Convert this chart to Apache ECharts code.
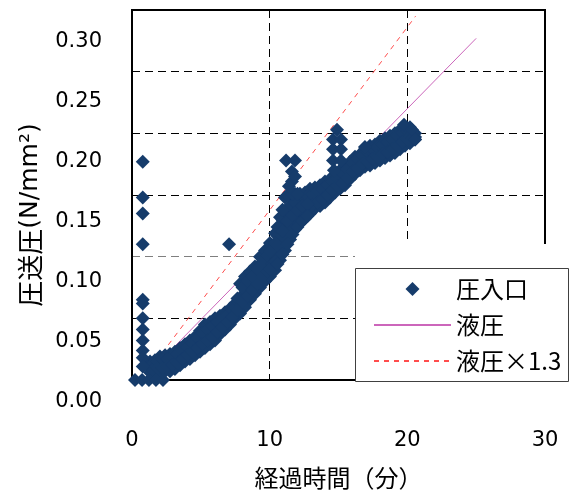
<!DOCTYPE html>
<html>
<head>
<meta charset="utf-8">
<script src="https://cdn.jsdelivr.net/npm/echarts@6/dist/echarts.min.js"></script>
<style>
  html, body { margin: 0; background: #fff; }
  #chart { width: 572px; height: 495px; }
</style>
</head>
<body>
<div id="chart"></div>
<script>
// 圧入口: 帯状の測定点 (上側・中央・下側を読み取り)
const bandTime = [1.31, 1.67, 2.03, 2.40, 2.76, 3.12, 3.49, 3.85, 4.21, 4.58,
  4.94, 5.30, 5.67, 6.03, 6.39, 6.76, 7.12, 7.48, 7.85, 8.21,
  8.57, 8.93, 9.30, 9.66, 10.02, 10.39, 10.75, 11.11, 11.48, 11.84,
  12.20, 12.57, 12.93, 13.29, 13.66, 14.02, 14.38, 14.75, 15.11, 15.47,
  15.84, 16.20, 16.56, 16.92, 17.29, 17.65, 18.01, 18.38, 18.74, 19.10,
  19.47, 19.83, 20.19, 20.56]
const bandUpper = [0.015, 0.016, 0.019, 0.020, 0.021, 0.023, 0.026, 0.029, 0.032, 0.035,
  0.040, 0.045, 0.047, 0.050, 0.052, 0.055, 0.058, 0.062, 0.078, 0.084,
  0.088, 0.092, 0.100, 0.105, 0.111, 0.119, 0.132, 0.148, 0.150, 0.151,
  0.151, 0.152, 0.155, 0.156, 0.158, 0.161, 0.163, 0.166, 0.170, 0.173,
  0.177, 0.181, 0.183, 0.187, 0.190, 0.191, 0.194, 0.196, 0.198, 0.200,
  0.203, 0.205, 0.205, 0.200]
const bandMid = [0.010, 0.011, 0.013, 0.014, 0.014, 0.016, 0.019, 0.022, 0.025, 0.028,
  0.031, 0.035, 0.038, 0.041, 0.045, 0.048, 0.052, 0.056, 0.066, 0.071,
  0.076, 0.081, 0.087, 0.092, 0.097, 0.104, 0.114, 0.126, 0.132, 0.137,
  0.139, 0.142, 0.145, 0.147, 0.150, 0.152, 0.155, 0.159, 0.162, 0.165,
  0.170, 0.174, 0.176, 0.180, 0.182, 0.183, 0.186, 0.188, 0.190, 0.192,
  0.195, 0.198, 0.199, 0.197]
const bandLower = [0.006, 0.007, 0.007, 0.007, 0.007, 0.009, 0.012, 0.015, 0.017, 0.020,
  0.023, 0.026, 0.029, 0.032, 0.037, 0.041, 0.045, 0.050, 0.054, 0.059,
  0.065, 0.070, 0.075, 0.080, 0.084, 0.089, 0.097, 0.105, 0.114, 0.122,
  0.127, 0.131, 0.135, 0.139, 0.141, 0.144, 0.148, 0.152, 0.155, 0.158,
  0.163, 0.167, 0.170, 0.173, 0.174, 0.176, 0.178, 0.180, 0.182, 0.184,
  0.187, 0.190, 0.192, 0.195]

// 帯の中間の時刻での上寄り・下寄りの点
const bandTime2 = [1.49, 1.85, 2.21, 2.58, 2.94, 3.30, 3.67, 4.03, 4.39, 4.76,
  5.12, 5.48, 5.85, 6.21, 6.57, 6.94, 7.30, 7.66, 8.03, 8.39,
  8.75, 9.11, 9.48, 9.84, 10.20, 10.57, 10.93, 11.29, 11.66, 12.02,
  12.38, 12.75, 13.11, 13.47, 13.84, 14.20, 14.56, 14.93, 15.29, 15.65,
  16.02, 16.38, 16.74, 17.10, 17.47, 17.83, 18.19, 18.56, 18.92, 19.28,
  19.65, 20.01, 20.37]
const bandUpperMid = [0.013, 0.015, 0.017, 0.017, 0.019, 0.021, 0.024, 0.027, 0.030, 0.034,
  0.038, 0.041, 0.044, 0.047, 0.050, 0.053, 0.057, 0.066, 0.075, 0.080,
  0.084, 0.090, 0.096, 0.101, 0.108, 0.117, 0.130, 0.139, 0.143, 0.145,
  0.146, 0.149, 0.151, 0.153, 0.155, 0.158, 0.161, 0.164, 0.168, 0.171,
  0.176, 0.179, 0.182, 0.185, 0.187, 0.189, 0.191, 0.193, 0.195, 0.198,
  0.200, 0.202, 0.200]
const bandLowerMid = [0.008, 0.010, 0.010, 0.011, 0.012, 0.014, 0.017, 0.020, 0.023, 0.026,
  0.029, 0.032, 0.035, 0.039, 0.043, 0.047, 0.051, 0.057, 0.063, 0.068,
  0.073, 0.078, 0.084, 0.088, 0.094, 0.101, 0.111, 0.119, 0.126, 0.131,
  0.135, 0.138, 0.142, 0.144, 0.147, 0.150, 0.154, 0.157, 0.160, 0.164,
  0.169, 0.172, 0.175, 0.177, 0.179, 0.181, 0.183, 0.185, 0.187, 0.190,
  0.193, 0.195, 0.196]

// 帯から外れた点 (立上り直後の列, 孤立点, 急上昇部の内側, 2つの突出部, 終端)
const extraTime = [0.78, 0.78, 0.78, 0.78, 0.78, 0.78, 0.78, 0.78, 0.78, 0.78, 0.78, 0.78,
  7.05,
  0.22, 0.73, 1.23, 1.74, 2.25,
  10.02, 10.02, 10.39, 10.39, 10.75, 11.11, 11.11, 11.48, 11.48, 11.84, 11.84,
  10.57, 10.57, 10.57, 10.93, 10.93, 10.93, 11.29, 11.29, 11.29,
  11.66, 11.66, 11.66, 12.02, 12.02, 12.02, 12.38, 12.38, 12.75, 12.75,
  11.19, 11.84, 11.62, 11.62, 11.84, 11.40,
  14.89, 14.60, 15.18, 14.60, 15.18, 14.60, 15.18, 14.67,
  16.92, 19.76, 20.34, 20.56]
const extraPress = [0.177, 0.148, 0.135, 0.110, 0.065, 0.062, 0.050, 0.041, 0.032, 0.024, 0.018, 0.011,
  0.110,
  0.000, 0.000, 0.000, 0.000, 0.000,
  0.104, 0.090, 0.111, 0.096, 0.123, 0.137, 0.115, 0.141, 0.123, 0.144, 0.130,
  0.109, 0.124, 0.094, 0.121, 0.138, 0.102, 0.129, 0.150, 0.110,
  0.134, 0.118, 0.151, 0.138, 0.124, 0.151, 0.141, 0.129, 0.143, 0.133,
  0.178, 0.178, 0.169, 0.161, 0.165, 0.157,
  0.203, 0.195, 0.195, 0.187, 0.187, 0.178, 0.178, 0.170,
  0.189, 0.207, 0.203, 0.195]

// 液圧 と 液圧×1.3
const liquidTime = [2.2, 25.0]
const liquidPress = [0.017, 0.277]
const liquid13Time = [2.2, 20.6]
const liquid13Press = [0.022, 0.295]

const yTicks = [0, 0.05, 0.10, 0.15, 0.20, 0.25, 0.30]

const numFont = 'DejaVu Sans'
const jpFont = 'Noto Sans CJK JP'
const navy = '#163c6b'

const inletPoints = []
bandTime.forEach((t, i) => {
  inletPoints.push([t, bandUpper[i]], [t, bandMid[i]], [t, bandLower[i]])
})
bandTime2.forEach((t, i) => {
  inletPoints.push([t, bandUpperMid[i]], [t, bandLowerMid[i]])
})
extraTime.forEach((t, i) => inletPoints.push([t, extraPress[i]]))

const chart = echarts.init(document.getElementById('chart'))

chart.setOption({
  animation: false,
  backgroundColor: '#fff',
  grid: [
    { left: 132, top: 10, width: 413, height: 370, show: true, borderColor: '#000', borderWidth: 2 },
    // 目盛ラベル用 (元図ではラベルが枠とずれている)
    { left: 132, top: 42, width: 413, height: 360 }
  ],
  xAxis: [{
    gridIndex: 0,
    type: 'value',
    min: 0,
    max: 30,
    interval: 10,
    axisLine: { show: true, lineStyle: { color: '#000', width: 2 } },
    axisTick: { show: false },
    axisLabel: { margin: 50, color: '#000', fontSize: 21, fontFamily: numFont },
    splitLine: { show: true, lineStyle: { color: '#000', width: 1, type: [8, 5] } },
    name: '経過時間（分）',
    nameLocation: 'middle',
    nameGap: 86,
    nameTextStyle: { color: '#000', fontSize: 24, fontFamily: jpFont }
  }, {
    gridIndex: 1,
    type: 'value',
    min: 0,
    max: 30,
    show: false
  }],
  yAxis: [{
    gridIndex: 0,
    type: 'value',
    min: 0,
    max: 0.3,
    interval: 0.05,
    axisLine: { show: true, lineStyle: { color: '#000', width: 2 } },
    axisTick: { show: false },
    axisLabel: { show: false },
    splitLine: {
      show: true,
      lineStyle: { color: ['#000', '#000', '#7f7f7f', '#000', '#000', '#000', '#000'], width: 1, type: [8, 5] }
    }
  }, {
    gridIndex: 1,
    type: 'value',
    min: yTicks[0],
    max: yTicks[yTicks.length - 1],
    interval: 0.05,
    axisLine: { show: false },
    axisTick: { show: false },
    splitLine: { show: false },
    axisLabel: {
      margin: 30,
      color: '#000',
      fontSize: 21,
      fontFamily: numFont,
      formatter: v => v.toFixed(2)
    }
  }],
  legend: {
    data: [
      { name: '圧入口', icon: 'path://M0,-10L10,0L0,10L-10,0Z' },
      { name: '液圧', itemStyle: { opacity: 0 } },
      { name: '液圧×1.3', itemStyle: { opacity: 0 } }
    ],
    orient: 'vertical',
    left: 373,
    top: 277,
    padding: 0,
    itemWidth: 77,
    itemHeight: 14,
    itemGap: 12,
    symbolKeepAspect: true,
    selectedMode: false,
    z: 20,
    textStyle: { color: '#000', fontSize: 24, lineHeight: 24, fontFamily: jpFont }
  },
  graphic: [
    { type: 'rect', x: 355, y: 244, z: 10, shape: { x: 0, y: 0, width: 217, height: 140 }, style: { fill: '#fff' } },
    { type: 'rect', x: 355.5, y: 268.5, z: 11, shape: { x: 0, y: 0, width: 213, height: 113 }, style: { fill: '#fff', stroke: '#404040', lineWidth: 1 } },
    {
      type: 'text',
      x: 30,
      y: 215,
      rotation: Math.PI / 2,
      style: {
        text: '{a|圧送圧}{b|(N/mm²)}',
        fill: '#000',
        align: 'center',
        verticalAlign: 'middle',
        rich: {
          a: { fontSize: 26, fontFamily: jpFont, fill: '#000' },
          b: { fontSize: 25, fontFamily: numFont, fill: '#000' }
        }
      }
    }
  ],
  series: [{
    name: '圧入口',
    type: 'scatter',
    xAxisIndex: 0,
    yAxisIndex: 0,
    symbol: 'diamond',
    symbolSize: 14,
    clip: false,
    z: 3,
    itemStyle: { color: navy, opacity: 1 },
    emphasis: { disabled: true },
    data: inletPoints
  }, {
    name: '液圧',
    type: 'line',
    xAxisIndex: 0,
    yAxisIndex: 0,
    symbol: 'none',
    lineStyle: { color: '#cc66bb', width: 1 },
    itemStyle: { color: '#cc66bb' },
    emphasis: { disabled: true },
    data: liquidTime.map((t, i) => [t, liquidPress[i]])
  }, {
    name: '液圧×1.3',
    type: 'line',
    xAxisIndex: 0,
    yAxisIndex: 0,
    symbol: 'none',
    lineStyle: { color: '#ff4d4d', width: 1, type: [5, 5] },
    itemStyle: { color: '#ff4d4d' },
    emphasis: { disabled: true },
    data: liquid13Time.map((t, i) => [t, liquid13Press[i]])
  }]
})
</script>
</body>
</html>
